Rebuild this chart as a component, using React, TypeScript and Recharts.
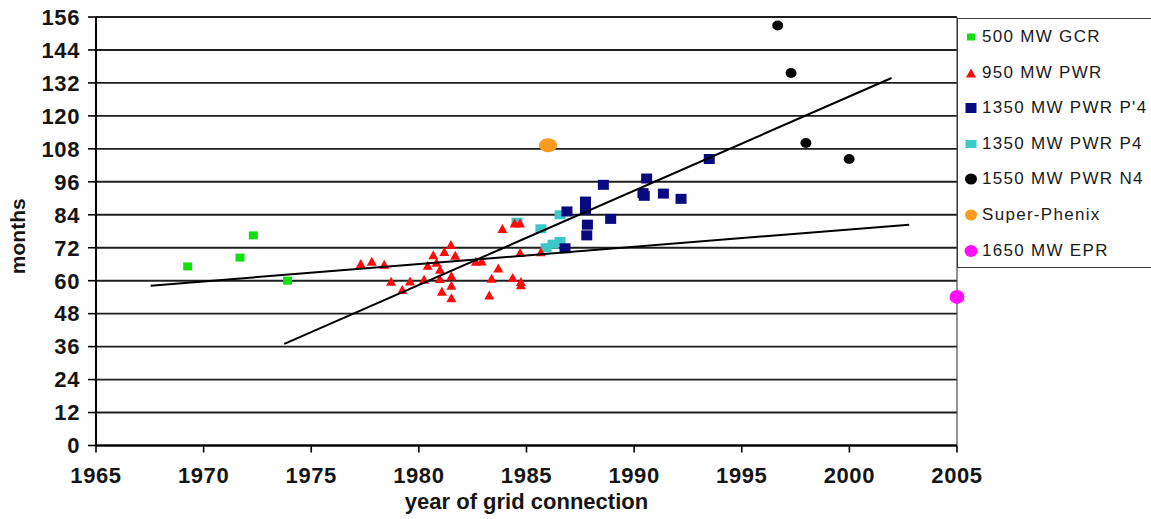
import React from 'react';
import {
  ScatterChart,
  Scatter,
  XAxis,
  YAxis,
  CartesianGrid,
  Legend,
  ReferenceLine,
} from 'recharts';

// ---- ticks ----
const X_TICKS = [1965, 1970, 1975, 1980, 1985, 1990, 1995, 2000, 2005];
const Y_TICKS = [0, 12, 24, 36, 48, 60, 72, 84, 96, 108, 120, 132, 144, 156];

// ---- series (year of grid connection, months) ----
const GCR_500 = [
  { year: 1969.26, months: 65.2 },
  { year: 1971.69, months: 68.4 },
  { year: 1972.31, months: 76.5 },
  { year: 1973.9, months: 60.0 },
];

const PWR_950 = [
  { year: 1977.3, months: 66.3 },
  { year: 1977.81, months: 67.1 },
  { year: 1978.39, months: 66.0 },
  { year: 1978.71, months: 59.8 },
  { year: 1979.23, months: 56.8 },
  { year: 1979.59, months: 59.9 },
  { year: 1980.24, months: 60.5 },
  { year: 1980.41, months: 65.6 },
  { year: 1980.67, months: 69.4 },
  { year: 1980.82, months: 66.7 },
  { year: 1980.98, months: 64.2 },
  { year: 1980.98, months: 60.8 },
  { year: 1981.07, months: 56.2 },
  { year: 1981.18, months: 70.6 },
  { year: 1981.49, months: 73.2 },
  { year: 1981.69, months: 69.3 },
  { year: 1981.51, months: 61.8 },
  { year: 1981.51, months: 58.3 },
  { year: 1981.51, months: 53.8 },
  { year: 1982.65, months: 67.1 },
  { year: 1982.92, months: 67.2 },
  { year: 1983.69, months: 64.6 },
  { year: 1983.38, months: 60.9 },
  { year: 1983.27, months: 54.8 },
  { year: 1984.36, months: 61.2 },
  { year: 1984.74, months: 59.7 },
  { year: 1984.74, months: 58.5 },
  { year: 1983.88, months: 79.0 },
  { year: 1984.7, months: 70.3 },
  { year: 1984.45, months: 81.0 },
  { year: 1984.7, months: 81.0 },
  { year: 1985.67, months: 70.5 },
];

const PWR_1350_P4_PRIME = [
  { year: 1986.88, months: 85.2 },
  { year: 1987.74, months: 88.8 },
  { year: 1987.74, months: 85.8 },
  { year: 1988.57, months: 94.9 },
  { year: 1990.58, months: 97.2 },
  { year: 1990.41, months: 91.9 },
  { year: 1990.47, months: 90.9 },
  { year: 1991.36, months: 91.7 },
  { year: 1992.18, months: 89.8 },
  { year: 1993.49, months: 104.3 },
  { year: 1988.91, months: 82.5 },
  { year: 1987.83, months: 80.4 },
  { year: 1987.8, months: 76.5 },
  { year: 1986.79, months: 71.8 },
];

const PWR_1350_P4 = [
  { year: 1984.56, months: 81.3 },
  { year: 1985.67, months: 78.9 },
  { year: 1986.56, months: 84.0 },
  { year: 1985.91, months: 72.0 },
  { year: 1986.23, months: 73.3 },
  { year: 1986.56, months: 74.3 },
];

const PWR_1550_N4 = [
  { year: 1996.67, months: 152.9 },
  { year: 1997.29, months: 135.6 },
  { year: 1997.98, months: 110.1 },
  { year: 1999.99, months: 104.3 },
];

const SUPER_PHENIX = [{ year: 1986.0, months: 109.3 }];
const EPR_1650 = [{ year: 2005.0, months: 54.1 }];

// ---- trend lines ----
const TREND_SHALLOW = [
  { year: 1967.54, months: 58.2 },
  { year: 2002.78, months: 80.4 },
];
const TREND_STEEP = [
  { year: 1973.75, months: 37.0 },
  { year: 2001.96, months: 133.8 },
];

// ---- colours ----
const GREEN = '#12e012';
const RED = '#ff0a0a';
const NAVY = '#0a0a80';
const CYAN = '#3cc8c8';
const BLACK = '#050505';
const ORANGE = '#ff9a1c';
const MAGENTA = '#ff10ff';

const FONT = '"Liberation Sans", Arial, Helvetica, sans-serif';

// ---- marker shapes ----
const squareShape = (fill: string, w: number, h: number) => (p: any) =>
  <rect x={p.cx - w / 2} y={p.cy - h / 2} width={w} height={h} fill={fill} />;
const triShape = (fill: string, w: number, h: number) => (p: any) =>
  (
    <polygon
      points={`${p.cx},${p.cy - h / 2} ${p.cx + w / 2},${p.cy + h / 2} ${p.cx - w / 2},${p.cy + h / 2}`}
      fill={fill}
    />
  );
const dotShape = (fill: string, rx: number, ry: number) => (p: any) =>
  <ellipse cx={p.cx} cy={p.cy} rx={rx} ry={ry} fill={fill} />;
const noShape = () => <g />;

type Kind = 'square' | 'tri' | 'dot';
const LEGEND_ITEMS: { name: string; color: string; kind: Kind; w: number; h: number }[] = [
  { name: '500 MW GCR', color: GREEN, kind: 'square', w: 8, h: 7 },
  { name: '950 MW PWR', color: RED, kind: 'tri', w: 10, h: 9 },
  { name: "1350 MW PWR P'4", color: NAVY, kind: 'square', w: 11, h: 10 },
  { name: '1350 MW PWR P4', color: CYAN, kind: 'square', w: 11, h: 8 },
  { name: '1550 MW PWR N4', color: BLACK, kind: 'dot', w: 12, h: 11 },
  { name: 'Super-Phenix', color: ORANGE, kind: 'dot', w: 12, h: 11 },
  { name: '1650 MW EPR', color: MAGENTA, kind: 'dot', w: 13, h: 12 },
];

const LegendBox = () => (
  <div
    style={{
      position: 'relative',
      width: 194,
      height: 250,
      boxSizing: 'border-box',
      border: '1.5px solid #3a3a3a',
      borderRight: 'none',
      background: '#fff',
      fontFamily: FONT,
    }}
  >
    {LEGEND_ITEMS.map((it, i) => (
      <div
        key={it.name}
        style={{
          position: 'absolute',
          left: 0,
          top: 18.2 + i * 35.55 - 11,
          height: 22,
          width: 192,
        }}
      >
        <svg width={16} height={22} style={{ position: 'absolute', left: 5, top: 0 }}>
          {it.kind === 'square' && (
            <rect x={8 - it.w / 2} y={11 - it.h / 2} width={it.w} height={it.h} fill={it.color} />
          )}
          {it.kind === 'tri' && (
            <polygon
              points={`8,${11 - it.h / 2} ${8 + it.w / 2},${11 + it.h / 2} ${8 - it.w / 2},${11 + it.h / 2}`}
              fill={it.color}
            />
          )}
          {it.kind === 'dot' && <ellipse cx={8} cy={11} rx={it.w / 2} ry={it.h / 2} fill={it.color} />}
        </svg>
        <span
          style={{
            position: 'absolute',
            left: 24,
            top: 0,
            lineHeight: '22px',
            fontSize: 17,
            letterSpacing: '1.3px',
            color: '#1a1a1a',
            whiteSpace: 'nowrap',
          }}
        >
          {it.name}
        </span>
      </div>
    ))}
  </div>
);

const tickStyle = { fontFamily: FONT, fontWeight: 700, fontSize: 22, fill: '#151515', letterSpacing: 0.6 };

const YLabel = (props: any) => {
  const vb = props.viewBox || { x: 0, y: 17, width: 96, height: 428 };
  const cx = vb.x + 17;
  const cy = vb.y + vb.height / 2 + 5;
  return (
    <text
      x={cx}
      y={cy}
      transform={`rotate(-90, ${cx}, ${cy})`}
      textAnchor="middle"
      dominantBaseline="central"
      style={{ fontFamily: FONT, fontWeight: 700, fontSize: 21, fill: '#151515' }}
    >
      months
    </text>
  );
};

const XLabel = (props: any) => {
  const vb = props.viewBox || { x: 96, y: 445, width: 861, height: 74 };
  return (
    <text
      x={vb.x + vb.width / 2}
      y={vb.y + 63}
      textAnchor="middle"
      style={{ fontFamily: FONT, fontWeight: 700, fontSize: 22, fill: '#151515' }}
    >
      year of grid connection
    </text>
  );
};

export default function App() {
  return (
    <div style={{ position: 'absolute', left: 0, top: 0, width: 1151, height: 519, background: '#fff', overflow: 'hidden' }}>
      <ScatterChart width={1151} height={519} margin={{ top: 17, right: 194, bottom: 0, left: 0 }}>
        <CartesianGrid vertical={false} stroke="#1e1e1e" strokeWidth={1.9} />
        <XAxis
          type="number"
          dataKey="year"
          domain={[1965, 2005]}
          ticks={X_TICKS}
          interval={0}
          height={73.5}
          tick={tickStyle}
          tickSize={7}
          tickMargin={15}
          axisLine={{ stroke: '#000', strokeWidth: 2 }}
          tickLine={{ stroke: '#000', strokeWidth: 1.6 }}
          label={<XLabel />}
        />
        <YAxis
          type="number"
          dataKey="months"
          domain={[0, 156]}
          ticks={Y_TICKS}
          interval={0}
          width={96}
          tick={tickStyle}
          tickSize={8}
          tickMargin={8}
          axisLine={{ stroke: '#000', strokeWidth: 2 }}
          tickLine={{ stroke: '#000', strokeWidth: 1.6 }}
          label={<YLabel />}
        />
        <ReferenceLine x={2005} stroke="#4a4a4a" strokeWidth={1.2} />
        <Legend
          layout="horizontal"
          verticalAlign="bottom"
          content={() => <LegendBox />}
          wrapperStyle={{
            position: 'absolute',
            left: 957,
            top: 18,
            width: 194,
            height: 0,
            overflow: 'visible',
          }}
        />
        <Scatter name="500 MW GCR" data={GCR_500} shape={squareShape(GREEN, 9, 8)} isAnimationActive={false} />
        <Scatter name="1350 MW PWR P4" data={PWR_1350_P4} shape={squareShape(CYAN, 11, 9)} isAnimationActive={false} />
        <Scatter name="950 MW PWR" data={PWR_950} shape={triShape(RED, 10, 9)} isAnimationActive={false} />
        <Scatter name="1350 MW PWR P'4" data={PWR_1350_P4_PRIME} shape={squareShape(NAVY, 11, 10)} isAnimationActive={false} />
        <Scatter name="1550 MW PWR N4" data={PWR_1550_N4} shape={dotShape(BLACK, 5.5, 5)} isAnimationActive={false} />
        <Scatter name="Super-Phenix" data={SUPER_PHENIX} shape={dotShape(ORANGE, 9, 7)} isAnimationActive={false} />
        <Scatter name="1650 MW EPR" data={EPR_1650} shape={dotShape(MAGENTA, 7.5, 7)} isAnimationActive={false} />
        <Scatter
          name="trend1"
          data={TREND_SHALLOW}
          line={{ stroke: '#000', strokeWidth: 2 }}
          shape={noShape}
          legendType="none"
          isAnimationActive={false}
        />
        <Scatter
          name="trend2"
          data={TREND_STEEP}
          line={{ stroke: '#000', strokeWidth: 2 }}
          shape={noShape}
          legendType="none"
          isAnimationActive={false}
        />
      </ScatterChart>
    </div>
  );
}
